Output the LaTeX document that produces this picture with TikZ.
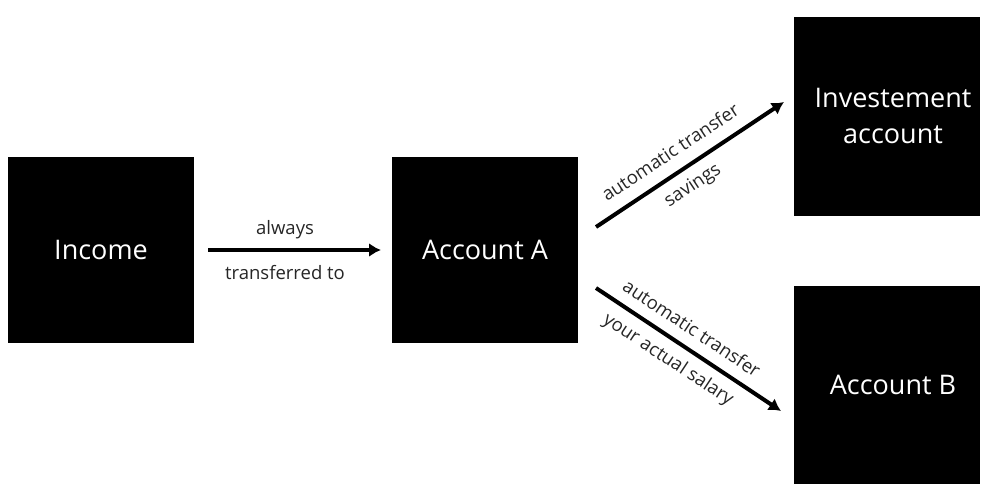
\documentclass[tikz,border=0pt]{standalone}
\usepackage{fontspec}
\setmainfont{Open Sans}
\usetikzlibrary{arrows.meta}
\begin{document}
\begin{tikzpicture}[x=1pt,y=-1pt,
 box/.style={fill=black,text=white,font=\fontsize{27}{36}\selectfont,align=center,inner sep=0},
 arr/.style={line width=4pt,-{Latex[length=12pt,width=14pt]}},
 lbl/.style={font=\fontsize{18.5}{22}\selectfont,text=black!85}]
\useasboundingbox (0,0) rectangle (1000,500);
\fill[black] (8,157) rectangle (194,343); \node[box] (inc) at (101,250) {Income};
\fill[black] (392,157) rectangle (578,343); \node[box] (a) at (485,250) {Account A};
\fill[black] (794,17) rectangle (980,216); \node[box] (inv) at (893,116) {Investement\\account};
\fill[black] (794,286) rectangle (980,484); \node[box] (b) at (893,385) {Account B};
\coordinate (s1) at (208,250); \coordinate (e1) at (381,250);
\coordinate (s2) at (596,227); \coordinate (e2) at (784,102);
\coordinate (s3) at (596,288); \coordinate (e3) at (781,411);
\draw[arr] (s1) -- (e1);
\draw[arr] (s2) -- (e2);
\draw[arr] (s3) -- (e3);
\node[lbl] (l1) at (285,230) {always};
\node[lbl] (l2) at (285,273) {transferred to};
\node[lbl,rotate=33.5] (l3) at (670,152) {automatic transfer};
\node[lbl,rotate=33.5] (l4) at (693,186) {savings};
\node[lbl,rotate=-33.5] (l5) at (692,328) {automatic transfer};
\node[lbl,rotate=-33.5] (l6) at (668,360) {your actual salary};
\end{tikzpicture}
\end{document}
